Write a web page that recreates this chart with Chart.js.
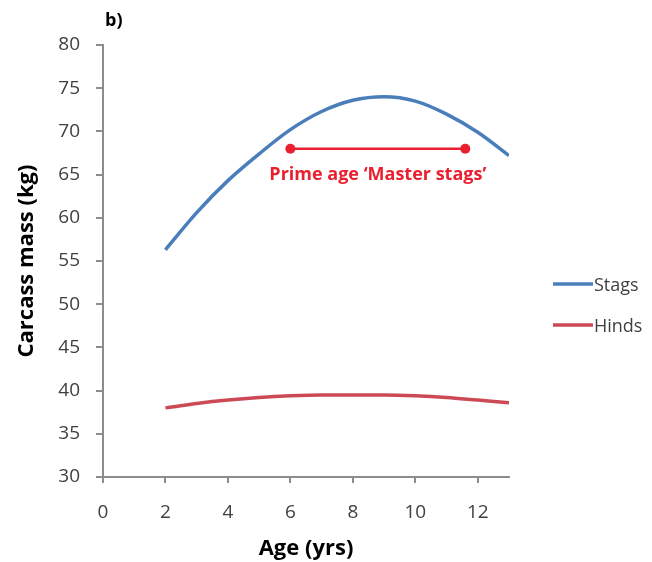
<!DOCTYPE html>
<html>
<head>
<meta charset="utf-8">
<script src="https://cdn.jsdelivr.net/npm/chart.js@4.4.1/dist/chart.umd.min.js"></script>
<style>
	html, body { margin: 0; padding: 0; background: #fff; }
</style>
</head>
<body>
<canvas id="massChart" width="652" height="562"></canvas>
<script>
// values
const ages = [2, 3, 4, 5, 6, 7, 8, 9, 10, 11, 12, 13];
const stagMass = [56.3, 60.6, 64.3, 67.4, 70.2, 72.3, 73.6, 74.0, 73.5, 72.0, 69.9, 67.2];
const hindMass = [38.0, 38.5, 38.9, 39.2, 39.4, 39.5, 39.5, 39.5, 39.4, 39.2, 38.9, 38.6];
const primeAgeRange = [6, 11.6];
const primeAgeMass = 68;
const primeAgeLabel = 'Prime age \u2018Master stags\u2019';
const panelLabel = 'b)';

const font = "'Open Sans', sans-serif";
const axisGrey = '#8c8c8c';
const textGrey = '#404040';
const primeRed = '#e8202f';

const toPoints = (xs, ys) => xs.map((x, i) => ({ x, y: ys[i] }));

// text overlays: panel letter, annotation caption and the side legend
const overlay = {
	id: 'overlay',
	afterDraw(chart) {
		const ctx = chart.ctx;
		const { x, y } = chart.scales;
		const area = chart.chartArea;
		ctx.save();

		ctx.fillStyle = '#000';
		ctx.font = "bold 18px " + font;
		ctx.textAlign = 'left';
		ctx.textBaseline = 'middle';
		ctx.fillText(panelLabel, area.left + 2, 21);

		const midAge = (primeAgeRange[0] + primeAgeRange[1]) / 2;
		ctx.fillStyle = primeRed;
		ctx.font = "bold 18px " + font;
		ctx.textAlign = 'center';
		ctx.fillText(primeAgeLabel, x.getPixelForValue(midAge), y.getPixelForValue(primeAgeMass) + 26);

		let ly = area.top + 239;
		chart.data.datasets.filter(d => d.inLegend).forEach(d => {
			const lx = area.right + 44;
			ctx.strokeStyle = d.borderColor;
			ctx.lineWidth = 3.5;
			ctx.beginPath();
			ctx.moveTo(lx, ly);
			ctx.lineTo(lx + 40, ly);
			ctx.stroke();
			ctx.fillStyle = textGrey;
			ctx.font = "18px " + font;
			ctx.textAlign = 'left';
			ctx.fillText(d.label, lx + 41, ly + 2);
			ly += 41;
		});
		ctx.restore();
	}
};

new Chart(document.getElementById('massChart').getContext('2d'), {
	type: 'line',
	data: {
		datasets: [
			{
				label: 'Stags',
				data: toPoints(ages, stagMass),
				borderColor: '#4a7ebb',
				borderWidth: 3.5,
				pointRadius: 0,
				cubicInterpolationMode: 'monotone',
				inLegend: true
			},
			{
				label: 'Hinds',
				data: toPoints(ages, hindMass),
				borderColor: '#cc4a55',
				borderWidth: 3.5,
				pointRadius: 0,
				cubicInterpolationMode: 'monotone',
				inLegend: true
			},
			{
				label: 'Prime age',
				data: primeAgeRange.map(a => ({ x: a, y: primeAgeMass })),
				borderColor: primeRed,
				backgroundColor: primeRed,
				borderWidth: 2.5,
				pointRadius: 5,
				pointBorderWidth: 0,
				inLegend: false
			}
		]
	},
	options: {
		responsive: false,
		animation: false,
		layout: { padding: { left: 14, top: 45, right: 143, bottom: 0 } },
		plugins: {
			legend: { display: false },
			tooltip: { enabled: false }
		},
		scales: {
			x: {
				type: 'linear',
				min: 0,
				max: 13,
				ticks: { stepSize: 2, includeBounds: false, color: textGrey, font: { family: font, size: 19 }, padding: 18 },
				grid: { drawOnChartArea: false, tickLength: 6, color: axisGrey, lineWidth: 2 },
				border: { color: axisGrey, width: 2 },
				title: { display: true, text: 'Age (yrs)', color: '#000', font: { family: font, size: 22, weight: 'bold' }, padding: 0 },
				afterFit(s) { s.height = 85; }
			},
			y: {
				min: 30,
				max: 80,
				ticks: { stepSize: 5, color: textGrey, font: { family: font, size: 19 }, padding: 16 },
				grid: { drawOnChartArea: false, tickLength: 7, color: axisGrey, lineWidth: 2 },
				border: { color: axisGrey, width: 2 },
				title: { display: true, text: 'Carcass mass (kg)', color: '#000', font: { family: font, size: 22, weight: 'bold' }, padding: 0 },
				afterFit(s) { s.width = 89; }
			}
		}
	},
	plugins: [overlay]
});
</script>
</body>
</html>
